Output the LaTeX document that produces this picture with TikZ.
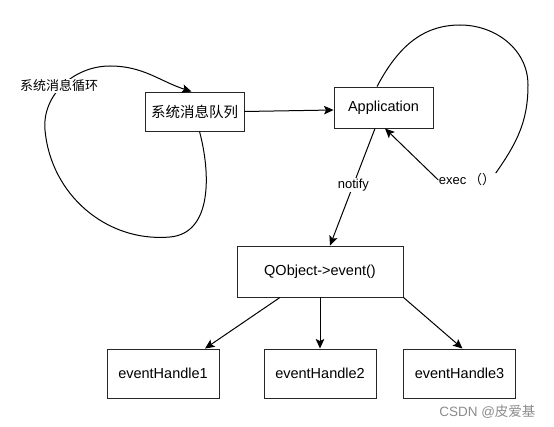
\documentclass[tikz,border=0pt]{standalone}
\usepackage{fontspec}
\setmainfont{Liberation Sans}
\newfontfamily\cjk{Noto Sans CJK SC}
\usetikzlibrary{arrows.meta}
\begin{document}
\begin{tikzpicture}[x=1pt,y=-1pt,
  box/.style={draw=black!85, line width=0.9pt, fill=white, inner sep=0pt, font=\fontsize{14.5}{16}\selectfont},
  lbl/.style={fill=white, inner sep=1pt, font=\fontsize{13}{15}\selectfont},
  conn/.style={line width=1pt, -{Stealth[length=9.5pt,width=8.5pt,inset=2pt]}},
  plain/.style={line width=1pt}]
\useasboundingbox (0,0) rectangle (554,427);
% boxes
\node[box, minimum width=99pt, minimum height=39pt] (queue) at (194.5,111.5) {\cjk 系统消息队列};
\node[box, minimum width=99pt, minimum height=41pt] (app) at (383.5,107.5) {Application};
\node[box, minimum width=166pt, minimum height=51pt] (qobj) at (320,271.5) {QObject->event()};
\node[box, minimum width=112pt, minimum height=49pt] (h1) at (163,373.5) {eventHandle1};
\node[box, minimum width=112pt, minimum height=49pt] (h2) at (320,373.5) {eventHandle2};
\node[box, minimum width=112pt, minimum height=49pt] (h3) at (459.5,373.5) {eventHandle3};
% queue -> app
\draw[conn] (queue.east) -- (app.west |- 0,110);
% system loop
\coordinate (qs) at ([xshift=5pt]queue.south);
\coordinate (qn) at ([xshift=-3pt]queue.north);
\draw[conn] (qs) to[out=-75,in=5] (170,237) to[out=185,in=-85] (45,130)
  to[out=95,in=180] (110,66) to[out=0,in=162] (qn);
\node[lbl] (loopl) at (59,86) {\cjk 系统消息循环};
% notify
\draw[conn] ([xshift=-8.5pt]app.south) -- node[lbl, pos=0.48] (notify) {notify} ([xshift=10pt]qobj.north);
% exec loop
\node[lbl, inner sep=0.5pt] (exec) at (467,180) {exec\hspace{0.2em}{\cjk （）}};
\draw[plain] ([xshift=-6.5pt]app.north) to[out=62,in=180] (460,25) to[out=0,in=90] (528,85)
  to[out=-90,in=55] (exec.north east);
\draw[conn] (exec.west) -- ([xshift=1.5pt]app.south);
% handlers
\draw[conn] ([xshift=-40pt]qobj.south) -- ([xshift=42pt]h1.north);
\draw[conn] (qobj.south) -- (h2.north);
\draw[conn] (qobj.south east) -- ([xshift=3pt]h3.north);
% watermark
\node[text=black!45, font=\fontsize{13.5}{15}\selectfont, anchor=east] (wm) at (539,412) {CSDN @{\cjk 皮爱基}};
\end{tikzpicture}
\end{document}
